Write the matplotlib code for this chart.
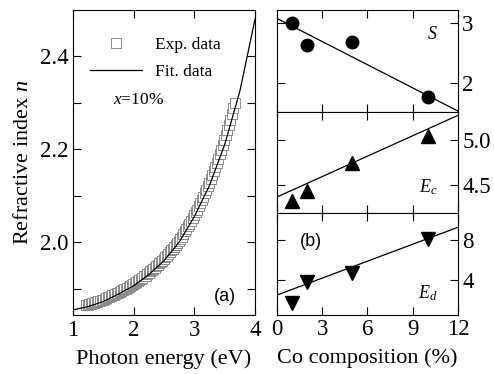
import numpy as np
import matplotlib.pyplot as plt
import matplotlib as mpl

mpl.rcParams.update({'font.family': 'Liberation Serif', 'font.size': 16,
                     'mathtext.fontset': 'custom',
                     'mathtext.rm': 'Liberation Serif',
                     'mathtext.it': 'Liberation Serif:italic',
                     'axes.linewidth': 0.8})

# (a) refractive index vs photon energy, x = 10 %
e_exp = [1.22, 1.245, 1.27, 1.295, 1.32, 1.345, 1.37, 1.395, 1.42, 1.445,
         1.47, 1.495, 1.52, 1.545, 1.57, 1.595, 1.62, 1.645, 1.67, 1.695,
         1.72, 1.745, 1.77, 1.795, 1.82, 1.845, 1.87, 1.895, 1.92, 1.945,
         1.97, 1.995, 2.02, 2.045, 2.07, 2.095, 2.12, 2.145, 2.17, 2.195,
         2.22, 2.245, 2.27, 2.295, 2.32, 2.345, 2.37, 2.395, 2.42, 2.445,
         2.47, 2.495, 2.52, 2.545, 2.57, 2.595, 2.62, 2.645, 2.67, 2.695,
         2.72, 2.745, 2.77, 2.795, 2.82, 2.845, 2.87, 2.895, 2.92, 2.945,
         2.97, 2.995, 3.02, 3.045, 3.07, 3.095, 3.12, 3.145, 3.17, 3.195,
         3.22, 3.245, 3.27, 3.295, 3.32, 3.345, 3.37, 3.395, 3.42, 3.445,
         3.47, 3.495, 3.52, 3.545, 3.57, 3.595, 3.62, 3.645, 3.67]
n_exp = [1.864, 1.865, 1.866, 1.867, 1.868, 1.869, 1.870, 1.871, 1.873, 1.874,
         1.875, 1.876, 1.878, 1.879, 1.881, 1.882, 1.884, 1.885, 1.887, 1.888,
         1.890, 1.891, 1.893, 1.895, 1.897, 1.898, 1.900, 1.902, 1.904, 1.906,
         1.908, 1.910, 1.912, 1.914, 1.917, 1.919, 1.921, 1.923, 1.926, 1.928,
         1.931, 1.934, 1.937, 1.939, 1.942, 1.945, 1.948, 1.951, 1.954, 1.957,
         1.960, 1.963, 1.967, 1.970, 1.974, 1.978, 1.982, 1.986, 1.990, 1.994,
         1.998, 2.002, 2.007, 2.012, 2.018, 2.023, 2.029, 2.034, 2.040, 2.046,
         2.052, 2.058, 2.064, 2.070, 2.077, 2.084, 2.091, 2.098, 2.105, 2.112,
         2.120, 2.128, 2.136, 2.144, 2.153, 2.161, 2.170, 2.179, 2.189, 2.199,
         2.209, 2.219, 2.230, 2.241, 2.253, 2.264, 2.276, 2.288, 2.300]
e_fit = [1.0, 1.25, 1.5, 1.75, 2.0, 2.25, 2.5, 2.75, 3.0, 3.25, 3.5, 3.75, 4.0]
n_fit = [1.854, 1.861, 1.872, 1.888, 1.906, 1.930, 1.960, 2.000, 2.055,
         2.122, 2.210, 2.325, 2.480]

# (b) parameters vs Co composition
co = [1, 2, 5, 10]
s_val = [3.0, 2.63, 2.68, 1.77]
ec_val = [4.33, 4.44, 4.74, 5.04]
ed_val = [1.7, 3.8, 4.7, 8.1]
co_line = [0, 12]
s_line = [3.08, 1.53]
ec_line = [4.37, 5.27]
ed_line = [2.5, 9.3]

fig = plt.figure(figsize=(4.94, 3.74), dpi=100)

ax = fig.add_axes([0.1478, 0.1578, 0.3684, 0.8155])
ax.plot(e_exp, n_exp, 's', ms=6.5, mfc='white', mec='#8a8a8a', mew=0.7,
        label='Exp. data')
ax.plot(e_fit, n_fit, '-', color='black', lw=0.9, label='Fit. data')
ax.set_xlim(1, 4)
ax.set_ylim(1.843, 2.50)
ax.set_xticks([1, 2, 3, 4])
ax.set_yticks([1.9, 2.0, 2.1, 2.2, 2.3, 2.4])
ax.set_yticklabels(['', '2.0', '', '2.2', '', '2.4'])
ax.tick_params(direction='in', top=True, right=True, length=6, width=0.8,
               labelsize=16.5)
ax.set_xlabel('Photon energy (eV)', labelpad=6)
ax.set_ylabel('Refractive index $n$', labelpad=5)
ax.legend(loc='upper left', bbox_to_anchor=(0.045, 0.94), frameon=False,
          fontsize=12.5, handlelength=3.0, handletextpad=0.75, borderpad=0,
          labelspacing=0.6)
ax.text(0.22, 0.705, '$x$=10%', transform=ax.transAxes, fontsize=12.5,
        va='center')
ax.text(0.835, 0.059, '(a)', transform=ax.transAxes, fontsize=13,
        family='Liberation Sans', ha='center', va='center')

left, width, h = 0.5607, 0.3664, 0.2718
panels = [
    (0.7014, s_val, s_line, 'o', (1.52, 3.22), [2, 3], ['2', '3'], '$S$', (0.856, 0.755)),
    (0.4296, ec_val, ec_line, '^', (4.19, 5.31), [4.5, 5.0], ['4.5', '5.0'], '$E_c$', (0.834, 0.257)),
    (0.1578, ed_val, ed_line, 'v', (0.5, 10.7), [4, 8], ['4', '8'], '$E_d$', (0.834, 0.216)),
]
for i, (bot, yv, yl, mk, lim, ticks, tl, name, pos) in enumerate(panels):
    a = fig.add_axes([left, bot, width, h])
    a.plot(co, yv, mk, color='black', ms=9 if mk == 'o' else 10)
    a.plot(co_line, yl, '-', color='black', lw=0.9)
    a.set_xlim(0, 12)
    a.set_ylim(*lim)
    a.set_xticks([0, 3, 6, 9, 12])
    a.set_yticks(ticks)
    a.set_yticklabels(tl)
    a.yaxis.tick_right()
    a.tick_params(direction='in', top=True, bottom=True, left=True, right=True,
                  length=6, width=0.8, pad=3, labelsize=16.5)
    if i < 2:
        a.set_xticklabels([])
    else:
        a.set_xlabel('Co composition (%)', labelpad=6)
    a.text(pos[0], pos[1], name, transform=a.transAxes, fontsize=13,
           ha='center', va='center')
    if i == 2:
        a.text(0.188, 0.725, '(b)', transform=a.transAxes, fontsize=13,
               family='Liberation Sans', ha='center', va='center')

fig.savefig('out.png', dpi=100)
